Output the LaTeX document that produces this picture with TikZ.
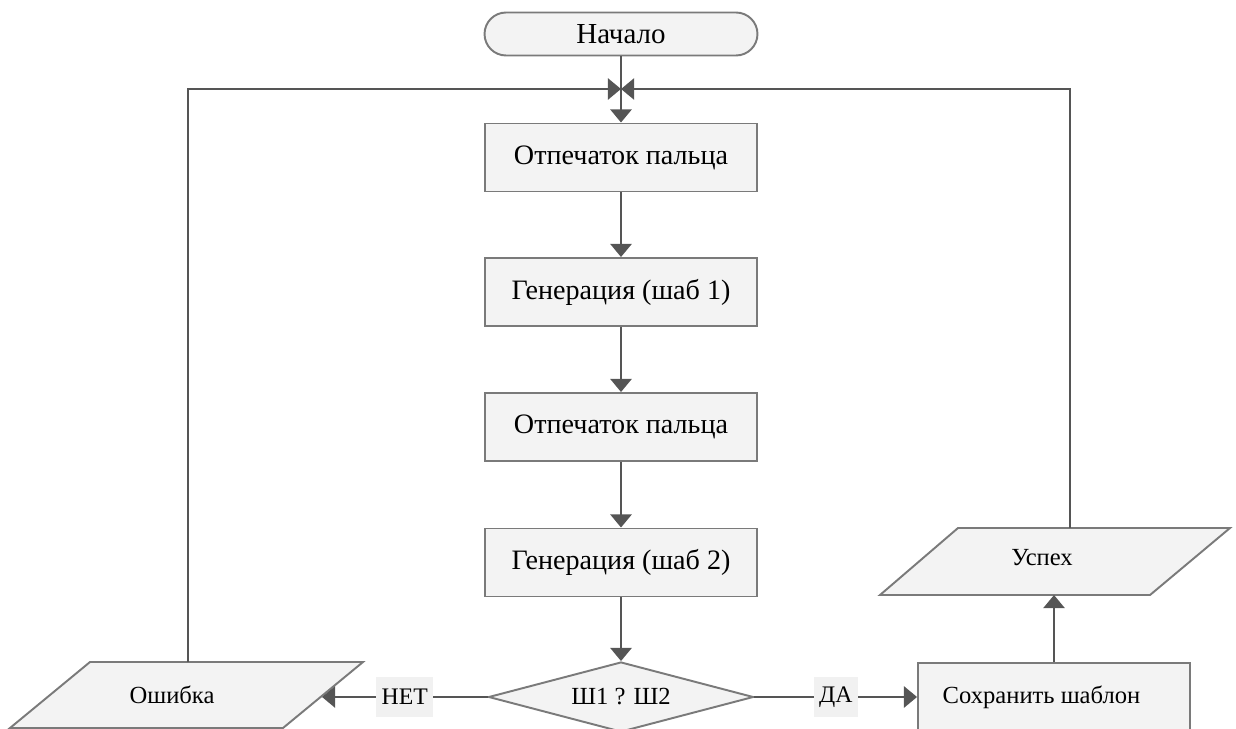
\documentclass[tikz,border=0pt]{standalone}
\usepackage{fontspec}
\setmainfont{Liberation Serif}
\usetikzlibrary{arrows.meta,shapes.geometric}
\definecolor{ln}{HTML}{555555}
\definecolor{bd}{HTML}{7A7A7A}
\definecolor{fl}{HTML}{F3F3F3}
\definecolor{lb}{HTML}{F1F1F1}
\begin{document}
\begin{tikzpicture}[x=0.02cm,y=-0.02cm,
  box/.style={draw=bd, line width=1.1pt, fill=fl, minimum width=5.44cm, minimum height=1.36cm, inner sep=0pt, font=\fontsize{16}{19}\selectfont},
  para/.style={draw=bd, line width=1.1pt, fill=fl},
  txt/.style={inner sep=0pt, font=\fontsize{14}{17}\selectfont},
  conn/.style={draw=ln, line width=1.6pt, -{Triangle[width=12pt,length=7.5pt]}},
  lbl/.style={fill=lb, inner xsep=3pt, minimum height=0.8cm, font=\fontsize{13.5}{16}\selectfont}]
\useasboundingbox (0,0) rectangle (1236,729);
\clip (0,0) rectangle (1236,729);

% start terminal
\node[draw=bd, line width=1.1pt, fill=fl, rounded corners=0.43cm, minimum width=5.46cm, minimum height=0.86cm, inner sep=0pt, font=\fontsize{16.5}{19}\selectfont] (start) at (621,34) {Начало};

% process boxes
\node[box] (b1) at (621,157.5) {Отпечаток пальца};
\node[box] (b2) at (621,292) {Генерация (шаб 1)};
\node[box] (b3) at (621,427) {Отпечаток пальца};
\node[box] (b4) at (621,562.5) {Генерация (шаб 2)};

% decision
\node[diamond, draw=bd, line width=1.1pt, fill=fl, minimum width=5.3cm, minimum height=1.4cm, inner sep=0pt, aspect=3.8, font=\fontsize{14}{17}\selectfont] (cmp) at (621,697) {Ш1 ? Ш2};

% save box
\node[box, font=\fontsize{14}{17}\selectfont] (save) at (1054,697) {Сохранить шаблон\kern0.5cm};

% error parallelogram
\draw[para] (10,728) -- (90,662) -- (363,662) -- (283,728) -- cycle;
\node[txt] (err) at (172,695) {Ошибка};
% success parallelogram
\draw[para] (880,595) -- (958,528) -- (1230,528) -- (1150,595) -- cycle;
\node[txt] (ok) at (1042,558) {Успех};

% coordinates
\coordinate (j) at (621,89);
\coordinate (errT) at (188,662);
\coordinate (errR) at (322,697);
\coordinate (okT) at (1070,528);
\coordinate (okB) at (1054,595);

% connectors
\draw[conn] (errT) |- (j);
\draw[conn] (okT) |- (j);
\draw[conn] (start) -- (b1);
\draw[conn] (b1) -- (b2);
\draw[conn] (b2) -- (b3);
\draw[conn] (b3) -- (b4);
\draw[conn] (b4) -- (cmp);
\draw[conn] (cmp.west) -- node[lbl] {НЕТ} (errR);
\draw[conn] (cmp.east) -- node[lbl] {ДА} (save.west);
\draw[conn] (save.north) -- (okB);
\end{tikzpicture}
\end{document}
